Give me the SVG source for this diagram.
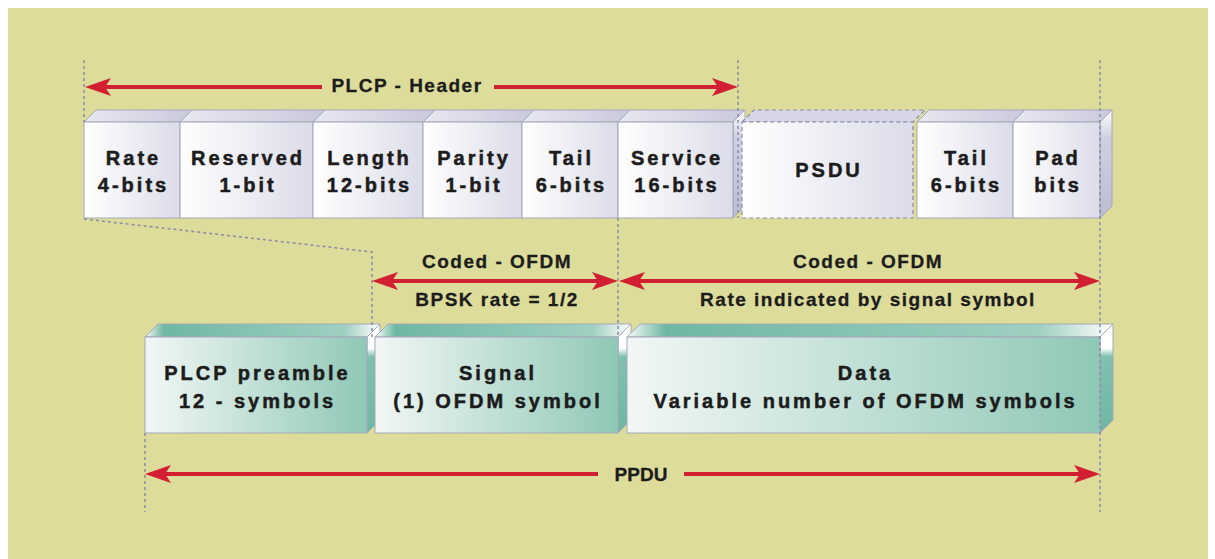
<svg xmlns="http://www.w3.org/2000/svg" width="1215" height="559" viewBox="0 0 1215 559">
<style>
.lbl{font-family:"Liberation Sans",Arial,sans-serif;font-weight:bold;font-size:20px;letter-spacing:3px;fill:#1c1c1c;stroke:#1c1c1c;stroke-width:0.5;text-anchor:middle}
.al{font-family:"Liberation Sans",Arial,sans-serif;font-weight:bold;font-size:19px;letter-spacing:1.5px;fill:#1c1c1c;stroke:#1c1c1c;stroke-width:0.3;text-anchor:middle}
.dash{stroke:#8a8aa6;stroke-width:1.5;stroke-dasharray:3 3;fill:none}
.arr{stroke:#d21f32;stroke-width:4;fill:none}
.edge{stroke:#a4a8b8;stroke-width:1}
.tf{fill:url(#topL)}
.ff{fill:url(#frontL)}
.sf{fill:url(#sideL)}
.tb{fill:url(#topT)}
.fb{fill:url(#frontT)}
.sb{fill:url(#sideT)}
</style>
<defs>
<linearGradient id="frontL" x1="0" y1="0" x2="1" y2="0">
<stop offset="0" stop-color="#ffffff"/><stop offset="1" stop-color="#dcdcea"/>
</linearGradient>
<linearGradient id="topL" x1="0" y1="0" x2="1" y2="0">
<stop offset="0" stop-color="#e8e8f2"/><stop offset="1" stop-color="#c9c9dc"/>
</linearGradient>
<linearGradient id="sideL" x1="0" y1="0" x2="0" y2="1">
<stop offset="0" stop-color="#ffffff"/><stop offset="0.25" stop-color="#d0d0e2"/><stop offset="1" stop-color="#bdbdd3"/>
</linearGradient>
<linearGradient id="frontT" x1="0" y1="0" x2="1" y2="0">
<stop offset="0" stop-color="#f2f7f5"/><stop offset="1" stop-color="#8fc8b7"/>
</linearGradient>
<linearGradient id="topT" x1="0" y1="0" x2="1" y2="0">
<stop offset="0" stop-color="#f6faf8"/><stop offset="0.08" stop-color="#6fb7a2"/><stop offset="0.85" stop-color="#9fd0c2"/><stop offset="1" stop-color="#ffffff"/>
</linearGradient>
<linearGradient id="sideT" x1="0" y1="0" x2="0" y2="1">
<stop offset="0" stop-color="#ffffff"/><stop offset="0.22" stop-color="#ffffff"/><stop offset="0.3" stop-color="#7fc1ae"/><stop offset="1" stop-color="#6fb7a2"/>
</linearGradient>
<marker id="ah" viewBox="0 0 26 18" refX="12" refY="9" markerWidth="26" markerHeight="18" orient="auto-start-reverse" markerUnits="userSpaceOnUse">
<path d="M0,0 L26,9 L0,18 L6,9 Z" fill="#d21f32"/>
</marker>
</defs>

<rect x="0" y="0" width="1215" height="559" fill="#ffffff"/>
<rect x="8" y="8" width="1200" height="551" fill="#dddc9b"/>

<!-- top row -->
<g id="rate">
<polygon class="tf edge" points="84,122 96,110 192,110 180,122"/>
<rect class="ff edge" x="84" y="122" width="96" height="96"/>
<text class="lbl" x="133.5" y="165">Rate</text>
<text class="lbl" x="133.5" y="192">4-bits</text>
</g>
<g id="reserved">
<polygon class="tf edge" points="180,122 192,110 325,110 313,122"/>
<rect class="ff edge" x="180" y="122" width="133" height="96"/>
<text class="lbl" x="248" y="165">Reserved</text>
<text class="lbl" x="248" y="192">1-bit</text>
</g>
<g id="length">
<polygon class="tf edge" points="313,122 325,110 435,110 423,122"/>
<rect class="ff edge" x="313" y="122" width="110" height="96"/>
<text class="lbl" x="369.5" y="165">Length</text>
<text class="lbl" x="369.5" y="192">12-bits</text>
</g>
<g id="parity">
<polygon class="tf edge" points="423,122 435,110 534,110 522,122"/>
<rect class="ff edge" x="423" y="122" width="99" height="96"/>
<text class="lbl" x="474" y="165">Parity</text>
<text class="lbl" x="474" y="192">1-bit</text>
</g>
<g id="tail1">
<polygon class="tf edge" points="522,122 534,110 630,110 618,122"/>
<rect class="ff edge" x="522" y="122" width="96" height="96"/>
<text class="lbl" x="571.5" y="165">Tail</text>
<text class="lbl" x="571.5" y="192">6-bits</text>
</g>
<g id="service">
<polygon class="tf edge" points="618,122 630,110 745,110 733,122"/>
<polygon class="sf edge" points="733,122 745,110 745,206 733,218"/>
<rect class="ff edge" x="618" y="122" width="115" height="96"/>
<text class="lbl" x="677" y="165">Service</text>
<text class="lbl" x="677" y="192">16-bits</text>
</g>
<g id="psdu">
<polygon points="742,122 754,110 925,110 913,122" fill="#d6d6e6" stroke="#8a8aa6" stroke-width="1.2" stroke-dasharray="4 3"/>
<rect x="742" y="122" width="171" height="96" fill="url(#frontL)" stroke="#8a8aa6" stroke-width="1.2" stroke-dasharray="4 3"/>
<text class="lbl" x="829" y="177">PSDU</text>
</g>
<g id="tail2">
<polygon class="tf edge" points="917,122 929,110 1025,110 1013,122"/>
<rect class="ff edge" x="917" y="122" width="96" height="96"/>
<text class="lbl" x="966.5" y="165">Tail</text>
<text class="lbl" x="966.5" y="192">6-bits</text>
</g>
<g id="pad">
<polygon class="tf edge" points="1013,122 1025,110 1112,110 1100,122"/>
<polygon class="sf edge" points="1100,122 1112,110 1112,206 1100,218"/>
<rect class="ff edge" x="1013" y="122" width="87" height="96"/>
<text class="lbl" x="1058" y="165">Pad</text>
<text class="lbl" x="1058" y="192">bits</text>
</g>

<!-- bottom row -->
<g id="preamble">
<polygon class="tb edge" points="145,337 158,324 380,324 367,337"/>
<polygon class="sb edge" points="367,337 380,324 380,420 367,433"/>
<rect class="fb edge" x="145" y="337" width="222" height="96"/>
<text class="lbl" x="257.5" y="380">PLCP preamble</text>
<text class="lbl" x="257.5" y="408">12 - symbols</text>
</g>
<g id="signal">
<polygon class="tb edge" points="375,337 388,324 631,324 618,337"/>
<polygon class="sb edge" points="618,337 631,324 631,420 618,433"/>
<rect class="fb edge" x="375" y="337" width="243" height="96"/>
<text class="lbl" x="498" y="380">Signal</text>
<text class="lbl" x="498" y="408">(1) OFDM symbol</text>
</g>
<g id="data">
<polygon class="tb edge" points="627,337 640,324 1113,324 1100,337"/>
<polygon class="sb edge" points="1100,337 1113,324 1113,420 1100,433"/>
<rect x="627" y="337" width="473" height="96" fill="url(#frontT)" stroke="#a4a8b8" stroke-width="1"/>
<text class="lbl" x="865.5" y="380">Data</text>
<text class="lbl" x="865.5" y="408">Variable number of OFDM symbols</text>
</g>

<!-- connectors -->
<g id="connectors">
<line class="dash" x1="84" y1="60" x2="84" y2="122"/>
<line class="dash" x1="738" y1="60" x2="738" y2="218"/>
<line class="dash" x1="1100" y1="60" x2="1100" y2="512"/>
<line class="dash" x1="618" y1="218" x2="618" y2="337"/>
<polyline class="dash" points="84,219 372,252 372,337"/>
<line class="dash" x1="145" y1="433" x2="145" y2="512"/>

<line class="arr" x1="99" y1="87" x2="322" y2="87" marker-start="url(#ah)"/>
<line class="arr" x1="494" y1="87" x2="724" y2="87" marker-end="url(#ah)"/>
<text class="al" x="407" y="92">PLCP - Header</text>

<line class="arr" x1="386" y1="281" x2="604" y2="281" marker-start="url(#ah)" marker-end="url(#ah)"/>
<text class="al" x="497" y="268">Coded - OFDM</text>
<text class="al" x="497" y="306">BPSK rate = 1/2</text>

<line class="arr" x1="633" y1="281" x2="1086" y2="281" marker-start="url(#ah)" marker-end="url(#ah)"/>
<text class="al" x="868" y="268">Coded - OFDM</text>
<text class="al" x="868" y="306">Rate indicated by signal symbol</text>

<line class="arr" x1="159" y1="474" x2="598" y2="474" marker-start="url(#ah)"/>
<line class="arr" x1="684" y1="474" x2="1086" y2="474" marker-end="url(#ah)"/>
<text class="al" x="641" y="481" style="letter-spacing:0">PPDU</text>
</g>
</svg>
